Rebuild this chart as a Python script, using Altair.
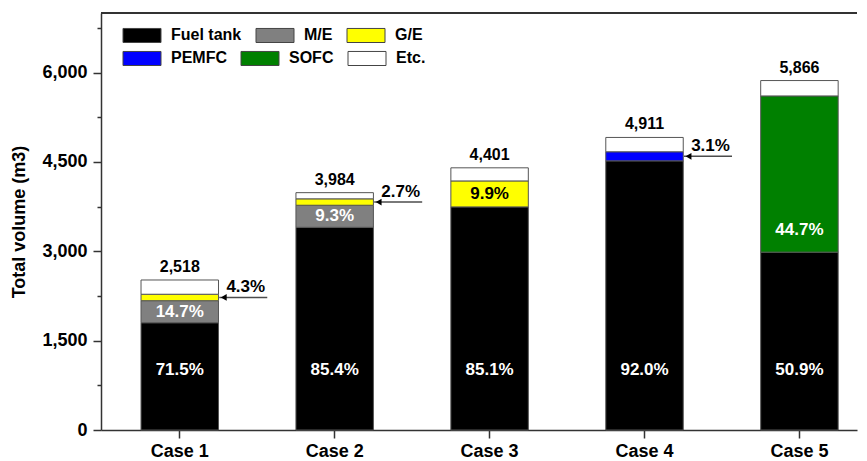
import altair as alt
import pandas as pd

# ---------------- data ----------------
cases = ["Case 1", "Case 2", "Case 3", "Case 4", "Case 5"]
components = ["Fuel tank", "M/E", "G/E", "PEMFC", "SOFC", "Etc."]
colors = ["#000000", "#808080", "#FFFF00", "#0000FF", "#008000", "#FFFFFF"]
totals = [2518, 3984, 4401, 4911, 5866]

# share of total volume (%) per component, per case
fuel_tank = [71.5, 85.4, 85.1, 92.0, 50.9]
m_e = [14.7, 9.3, 0.0, 0.0, 0.0]
g_e = [4.3, 2.7, 9.9, 0.0, 0.0]
pemfc = [0.0, 0.0, 0.0, 3.1, 0.0]
sofc = [0.0, 0.0, 0.0, 0.0, 44.7]
etc = [9.5, 2.6, 5.0, 4.9, 4.4]

# how each share label is shown: "in" = inside bar, "arrow" = beside bar with arrow
label_style = {
    "Fuel tank": ["in", "in", "in", "in", "in"],
    "M/E": ["in", "in", None, None, None],
    "G/E": ["arrow", "arrow", "in", None, None],
    "PEMFC": [None, None, None, "arrow", None],
    "SOFC": [None, None, None, None, "in"],
    "Etc.": [None, None, None, None, None],
}

Y_MAX = 7000
FUEL_LABEL_Y = 1000      # fuel-tank labels sit on one common line
SOFC_LABEL_Y = 3350
FONT = "Liberation Sans"

shares = {"Fuel tank": fuel_tank, "M/E": m_e, "G/E": g_e,
          "PEMFC": pemfc, "SOFC": sofc, "Etc.": etc}

rows, labels, arrows = [], [], []
for i, case in enumerate(cases):
    base = 0.0
    for k, comp in enumerate(components):
        s = shares[comp][i]
        if s <= 0:
            continue
        vol = totals[i] * s / 100.0
        rows.append({"case": case, "component": comp, "order": k,
                     "y0": base, "y1": base + vol})
        mid = base + vol / 2
        style = label_style[comp][i]
        if style == "in":
            ly = FUEL_LABEL_Y if comp == "Fuel tank" else (SOFC_LABEL_Y if comp == "SOFC" else mid)
            labels.append({"case": case, "y": ly, "text": f"{s:.1f}%",
                           "tcolor": "#000000" if comp == "G/E" else "#FFFFFF"})
        elif style == "arrow":
            arrows.append({"case": case, "y": mid, "text": f"{s:.1f}%"})
        base += vol

df = pd.DataFrame(rows)
lab_df = pd.DataFrame(labels)
arr_df = pd.DataFrame(arrows)
tot_df = pd.DataFrame({"case": cases, "total": totals,
                       "text": [f"{t:,}" for t in totals]})

# ---------------- scales / axes ----------------
xscale = alt.Scale(domain=cases, paddingInner=0.5, paddingOuter=0.19, align=0.68)
yscale = alt.Scale(domain=[0, Y_MAX], nice=False)

xaxis = alt.Axis(title=None, labelFont=FONT, labelFontSize=18, labelFontWeight="bold",
                 labelColor="#000", tickSize=8, tickWidth=1.5, tickColor="#333",
                 domainColor="#333", domainWidth=1.5, labelPadding=4, labelAngle=0)
yaxis = alt.Axis(values=list(range(0, Y_MAX, 750)),
                 labelExpr="datum.value % 1500 === 0 ? format(datum.value, ',') : ''",
                 tickSize={"condition": {"test": "datum.value % 1500 === 0", "value": 8}, "value": 4},
                 labelOverlap=False, grid=False,
                 labelFont=FONT, labelFontSize=18, labelFontWeight="bold", labelColor="#000",
                 titleFont=FONT, titleFontSize=18, titleFontWeight="bold", titleColor="#000",
                 titlePadding=13, labelPadding=6,
                 tickWidth=1.5, tickColor="#333", domainColor="#333", domainWidth=1.5)


def legend_for(legend_y):
    return alt.Legend(title=None, orient="none", legendX=31, legendY=legend_y,
                      direction="horizontal",
                      symbolType="M-2,-0.74H2V0.74H-2Z", symbolSize=361,
                      symbolStrokeColor="#444", symbolStrokeWidth=1, symbolOpacity=1,
                      labelFont=FONT, labelFontSize=16, labelFontWeight="bold",
                      labelColor="#000", labelOffset=19, columnPadding=12)


X = alt.X("case:N", sort=cases, scale=xscale, axis=xaxis)
Y0 = alt.Y("y0:Q", scale=yscale, axis=yaxis, title="Total volume (m3)")

bars = alt.Chart(df).mark_bar(stroke="#555555", strokeWidth=1).encode(
    x=X, y=Y0, y2="y1:Q",
    color=alt.Color("component:N", scale=alt.Scale(domain=components, range=colors),
                    legend=None),
    order="order:Q",
)

# legend rows (two rows that flow freely, like the original)
leg_rows = []
for r, ly in enumerate([12, 35]):
    dom = components[3 * r:3 * r + 3]
    rng = colors[3 * r:3 * r + 3]
    leg_rows.append(
        alt.Chart(df).transform_filter("false").mark_bar(stroke="#444").encode(
            x=X, y=Y0, y2="y1:Q",
            color=alt.Color("component:N", scale=alt.Scale(domain=dom, range=rng),
                            legend=legend_for(ly)),
        )
    )

inner = alt.Chart(lab_df).mark_text(font=FONT, fontSize=17, fontWeight="bold").encode(
    x=X, y=alt.Y("y:Q", scale=yscale), text="text:N",
    color=alt.Color("tcolor:N", scale=None),
)

tot_text = alt.Chart(tot_df).mark_text(font=FONT, fontSize=16, fontWeight="bold",
                                       baseline="bottom", dy=-5, color="#000").encode(
    x=X, y=alt.Y("total:Q", scale=yscale), text="text:N")

arr_text = alt.Chart(arr_df).mark_text(font=FONT, fontSize=17, fontWeight="bold",
                                       color="#000", xOffset=66, dy=-10).encode(
    x=X, y=alt.Y("y:Q", scale=yscale), text="text:N")

arr_line = alt.Chart(arr_df).mark_tick(orient="horizontal", size=48, thickness=1.5,
                                       color="#000", xOffset=63.5).encode(
    x=X, y=alt.Y("y:Q", scale=yscale))

arr_head = alt.Chart(arr_df).mark_point(shape="triangle-left", filled=True, size=45,
                                        color="#000", opacity=1, xOffset=44).encode(
    x=X, y=alt.Y("y:Q", scale=yscale))

top_line = alt.Chart(tot_df).mark_rule(color="#333", strokeWidth=1.5).encode(
    y=alt.datum(Y_MAX))

chart = alt.layer(bars, *leg_rows, inner, tot_text, arr_line, arr_head, arr_text,
                  top_line).resolve_scale(color="independent").properties(
    width=756, height=417,
    padding={"left": 2, "top": 4, "right": 0, "bottom": 0},
).configure_view(stroke=None)

chart.save("out.html", embed_options={"renderer": "svg", "actions": False})
